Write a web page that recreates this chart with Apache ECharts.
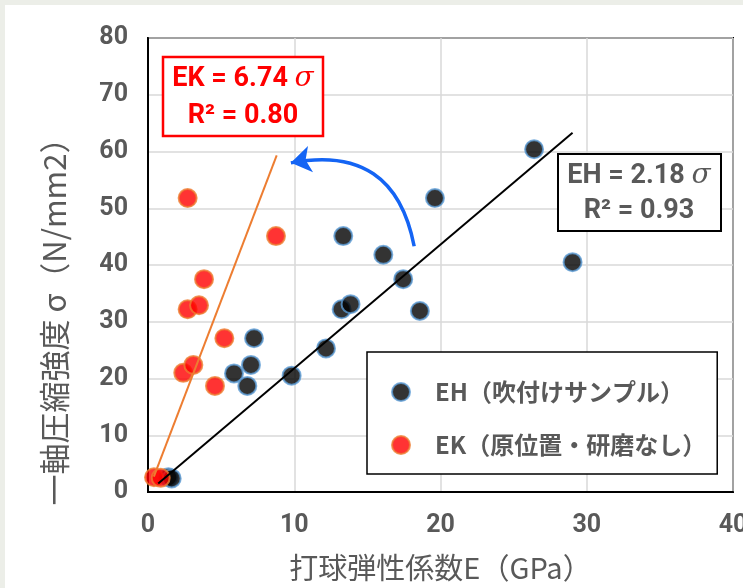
<!DOCTYPE html>
<html>
<head>
<meta charset="utf-8">
<script src="https://cdn.jsdelivr.net/npm/echarts@6/dist/echarts.min.js"></script>
<style>
  html, body { margin: 0; padding: 0; background: #fff; overflow: hidden; }
  #chart { width: 743px; height: 588px; }
</style>
</head>
<body>
<div id="chart"></div>
<script>
// 読み取った値
const ehPoints = [
  [1.39, 2.6], [1.62, 2.4], [5.88, 20.9], [6.79, 18.7], [7.04, 22.4], [7.25, 27.1],
  [9.82, 20.5], [12.17, 25.3], [13.24, 32.2], [13.85, 33.1], [13.35, 45.1],
  [16.09, 41.8], [17.45, 37.5], [18.59, 31.9], [19.62, 51.8], [26.4, 60.4], [29.03, 40.5]
]
const ekPoints = [
  [0.41, 2.6], [0.87, 2.5], [2.41, 21.0], [3.1, 22.4], [4.58, 18.7], [5.22, 27.1],
  [2.71, 32.2], [3.49, 32.9], [3.83, 37.5], [2.71, 51.8], [8.75, 45.1]
]
const ehFit = [[0.7, 1.5], [29.03, 63.3]]
const ekFit = [[0.4, 2.7], [8.8, 59.3]]
const arrowPath = [[18.2, 43.3], [9.77, 58.0]]
const xTicks = [0, 10, 20, 30, 40]
const yTicks = [0, 10, 20, 30, 40, 50, 60, 70, 80]
const seriesNames = ['EH（吹付けサンプル）', 'EK（原位置・研磨なし）']

const grey = '#595959'
const numFont = 'Roboto, "Liberation Sans", sans-serif'
const jpFont = '"Noto Sans CJK JP", "Noto Sans", sans-serif'

const chart = echarts.init(document.getElementById('chart'))

const axisLabel = {
  color: grey,
  fontSize: 25,
  fontWeight: 'bold',
  fontFamily: numFont
}

const option = {
  backgroundColor: '#fff',
  animation: false,
  grid: {
    left: 148,
    right: 10,
    top: 38,
    bottom: 96,
    outerBoundsMode: 'none',
    show: true,
    borderColor: '#000',
    borderWidth: 2
  },
  xAxis: {
    type: 'value',
    min: xTicks[0],
    max: xTicks[xTicks.length - 1],
    interval: 10,
    axisLine: { show: true, lineStyle: { color: '#000', width: 2 } },
    axisTick: { show: false },
    axisLabel: { ...axisLabel, margin: 21 },
    splitLine: { lineStyle: { color: '#d9d9d9', width: 1.5 } },
    name: '打球弾性係数E（GPa）',
    nameLocation: 'middle',
    nameGap: 61,
    nameTextStyle: { color: grey, fontSize: 29, fontFamily: jpFont }
  },
  yAxis: {
    type: 'value',
    min: yTicks[0],
    max: yTicks[yTicks.length - 1],
    interval: 10,
    axisLine: { show: true, lineStyle: { color: '#000', width: 2 } },
    axisTick: { show: false },
    axisLabel: { ...axisLabel, margin: 20 },
    splitLine: { lineStyle: { color: '#d9d9d9', width: 1.5 } }
  },
  legend: {
    data: seriesNames,
    orient: 'vertical',
    left: 367,
    top: 352,
    padding: [28, 11, 17, 24],
    itemGap: 29,
    itemWidth: 18,
    itemHeight: 18,
    icon: 'circle',
    backgroundColor: '#fff',
    borderColor: '#000',
    borderWidth: 1.5,
    borderRadius: 0,
    textStyle: {
      color: grey,
      fontSize: 24,
      fontWeight: 'bold',
      fontFamily: jpFont,
      padding: [0, 0, 0, 20]
    }
  },
  graphic: [
    { type: 'rect', shape: { x: 0, y: 0, width: 743, height: 5 }, style: { fill: '#eceee8' }, silent: true },
    { type: 'rect', shape: { x: 0, y: 0, width: 5, height: 588 }, style: { fill: '#eceee8' }, silent: true },
    {
      type: 'text',
      x: 54,
      y: 314,
      rotation: Math.PI / 2,
      style: {
        text: '一軸圧縮強度 σ（N/mm2）',
        fill: grey,
        font: '31px "Noto Sans CJK JP", sans-serif',
        align: 'center',
        verticalAlign: 'middle'
      }
    },
    // EK 回帰式
    {
      type: 'rect',
      shape: { x: 163, y: 57, width: 160, height: 79 },
      style: { fill: '#fff', stroke: '#ff0000', lineWidth: 2.5 },
      z: 100
    },
    {
      type: 'text', x: 243, y: 79, z: 101,
      style: {
        text: '{a|EK = 6.74 }{s|σ}',
        align: 'center', verticalAlign: 'middle',
        rich: {
          a: { fill: '#ff0000', font: 'bold 27px Roboto, sans-serif' },
          s: { fill: '#ff0000', font: 'italic 28px "DejaVu Serif", serif' }
        }
      }
    },
    {
      type: 'text', x: 243, y: 116, z: 101,
      style: {
        text: 'R² = 0.80',
        fill: '#ff0000', font: 'bold 27px Roboto, sans-serif',
        align: 'center', verticalAlign: 'middle'
      }
    },
    // EH 回帰式
    {
      type: 'rect',
      shape: { x: 558, y: 154, width: 163, height: 77 },
      style: { fill: '#fff', stroke: '#000', lineWidth: 2 },
      z: 100
    },
    {
      type: 'text', x: 639, y: 176, z: 101,
      style: {
        text: '{a|EH = 2.18 }{s|σ}',
        align: 'center', verticalAlign: 'middle',
        rich: {
          a: { fill: grey, font: 'bold 27px Roboto, sans-serif' },
          s: { fill: grey, font: 'italic 28px "DejaVu Serif", serif' }
        }
      }
    },
    {
      type: 'text', x: 639, y: 211, z: 101,
      style: {
        text: 'R² = 0.93',
        fill: grey, font: 'bold 27px Roboto, sans-serif',
        align: 'center', verticalAlign: 'middle'
      }
    }
  ],
  series: [
    {
      name: seriesNames[0],
      type: 'scatter',
      data: ehPoints,
      symbolSize: 18,
      itemStyle: { color: '#000', borderColor: '#5b9bd5', borderWidth: 2 },
      z: 2
    },
    {
      name: seriesNames[1],
      type: 'scatter',
      data: ekPoints,
      symbolSize: 18,
      itemStyle: { color: '#ff0000', borderColor: '#ed7d31', borderWidth: 2 },
      z: 3
    },
    {
      type: 'line',
      data: ehFit,
      showSymbol: false,
      lineStyle: { color: '#000', width: 2 },
      z: 4
    },
    {
      type: 'line',
      data: ekFit,
      showSymbol: false,
      lineStyle: { color: '#ed7d31', width: 2 },
      z: 4
    },
    {
      type: 'lines',
      coordinateSystem: 'cartesian2d',
      data: [{ coords: arrowPath }],
      symbol: ['none', 'arrow'],
      symbolSize: [0, 20],
      lineStyle: { color: '#1464f4', width: 3.5, curveness: -0.5, opacity: 1 },
      z: 5
    }
  ]
}

chart.setOption(option)
</script>
</body>
</html>
